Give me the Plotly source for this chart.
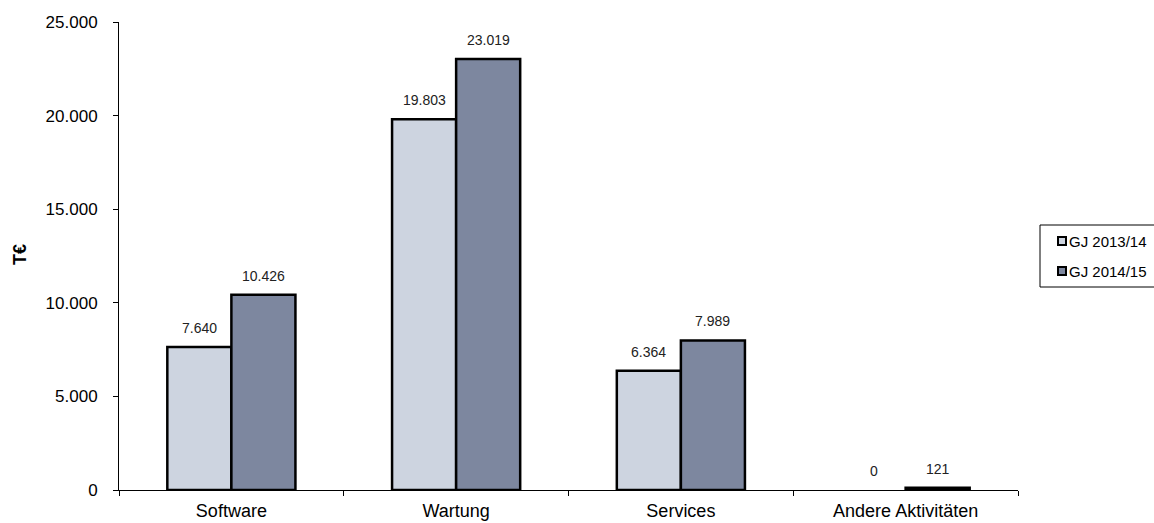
import plotly.graph_objects as go

categories = ["Software", "Wartung", "Services", "Andere Aktivitäten"]
gj_2013_14 = [7640, 19803, 6364, 0]
gj_2014_15 = [10426, 23019, 7989, 121]
series_names = ["GJ 2013/14", "GJ 2014/15"]
series_colors = ["#CDD4E0", "#7D879F"]

font_family = "Liberation Sans, Arial, sans-serif"

W, H = 1154, 523
ML, MR, MT, MB = 119, 136, 22, 33
plot_w = W - ML - MR
plot_h = H - MT - MB
bargap = 0.43


def px_x(px):
    return (px - ML) / plot_w


def px_y(py):
    return (H - MB - py) / plot_h


fig = go.Figure()
for name, values, color in zip(series_names, [gj_2013_14, gj_2014_15], series_colors):
    fig.add_trace(go.Bar(
        x=categories,
        y=values,
        name=name,
        marker=dict(
            color=color,
            # empty bars get no outline
            line=dict(color="#000000", width=[2.5 if v else 0 for v in values]),
        ),
        showlegend=False,
    ))

# value labels above each bar
cat_w = plot_w / len(categories)
bar_w = cat_w * (1 - bargap) / 2
annotations = []
for i, values in enumerate([gj_2013_14, gj_2014_15]):
    shift = (i - 0.5) * bar_w
    for cat, v in zip(categories, values):
        annotations.append(dict(
            x=cat, y=v, xref="x", yref="y",
            text=f"{v:,.0f}".replace(",", "."),
            showarrow=False, xanchor="center", yanchor="middle",
            xshift=shift, yshift=19,
            font=dict(size=14, color="#222222", family=font_family),
        ))

# axis title
annotations.append(dict(
    x=px_x(20), y=px_y(255), xref="paper", yref="paper",
    text="<b>T€</b>", textangle=-90, showarrow=False,
    xanchor="center", yanchor="middle",
    font=dict(size=18, color="#000000", family=font_family),
))

# legend box with entries
shapes = [dict(
    type="rect", xref="paper", yref="paper",
    x0=px_x(1040), x1=px_x(1170), y0=px_y(225), y1=px_y(287),
    line=dict(color="#000000", width=1), fillcolor="rgba(0,0,0,0)",
)]
for k, (name, color) in enumerate(zip(series_names, series_colors)):
    cy = 241 + k * 30
    shapes.append(dict(
        type="rect", xref="paper", yref="paper",
        x0=px_x(1058), x1=px_x(1066), y0=px_y(cy - 4), y1=px_y(cy + 4),
        line=dict(color="#000000", width=2), fillcolor=color,
    ))
    annotations.append(dict(
        x=px_x(1067), y=px_y(cy), xref="paper", yref="paper",
        text=name, showarrow=False, xanchor="left", yanchor="middle",
        font=dict(size=15, color="#000000", family=font_family),
    ))

fig.update_layout(
    width=W,
    height=H,
    margin=dict(l=ML, r=MR, t=MT, b=MB),
    paper_bgcolor="white",
    plot_bgcolor="white",
    separators=",.",
    barmode="group",
    bargap=bargap,
    bargroupgap=0,
    font=dict(family=font_family, size=15, color="#000000"),
    showlegend=False,
    annotations=annotations,
    shapes=shapes,
    xaxis=dict(
        showline=True, linecolor="#000000", linewidth=1,
        ticks="outside", tickson="boundaries", ticklen=5, tickcolor="#000000",
        tickfont=dict(size=18), ticklabelstandoff=4,
        showgrid=False, automargin=False,
    ),
    yaxis=dict(
        range=[0, 25000], dtick=5000, tickformat=",.0f",
        showline=True, linecolor="#000000", linewidth=1,
        ticks="outside", ticklen=5, tickcolor="#000000",
        tickfont=dict(size=17), ticklabelstandoff=12,
        showgrid=False, zeroline=False, automargin=False,
    ),
)

fig.write_html("out.html")
